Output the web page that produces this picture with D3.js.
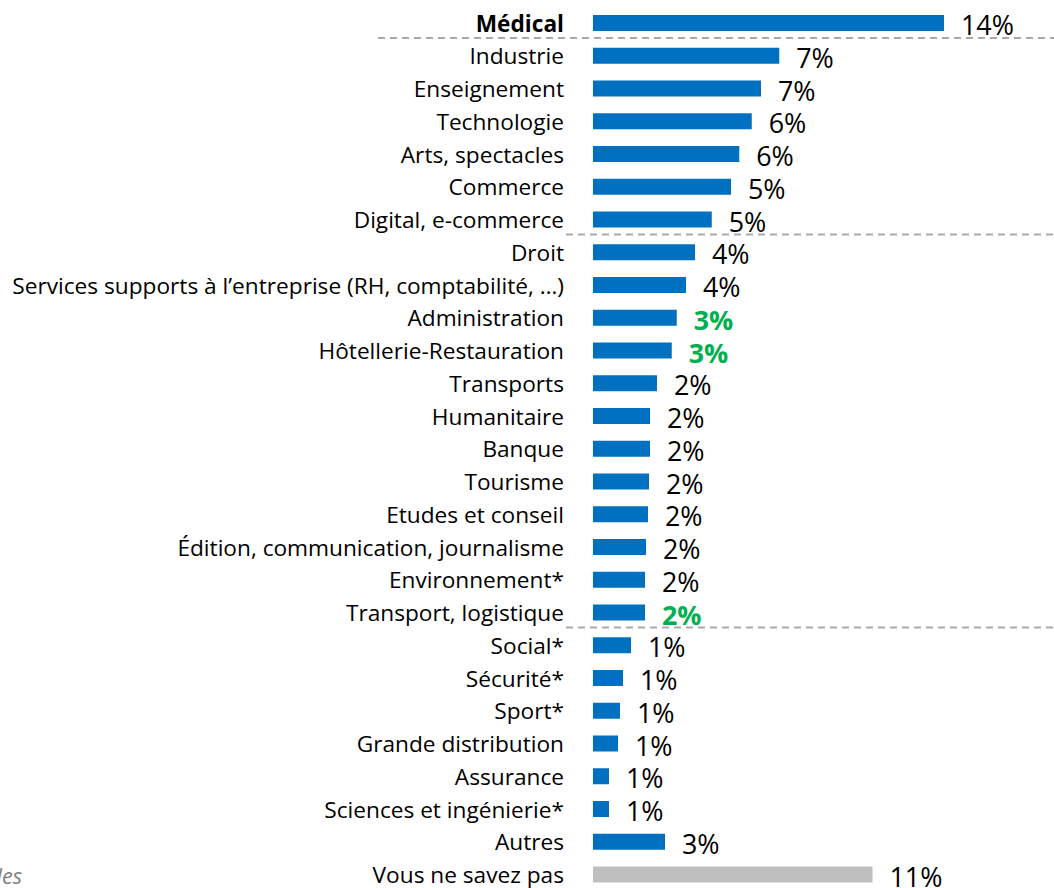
<!DOCTYPE html>
<html>
<head>
<meta charset="utf-8">
<script src="https://cdn.jsdelivr.net/npm/d3@7"></script>
<style>
  html, body { margin: 0; padding: 0; background: #fff; }
  svg { display: block; }
</style>
</head>
<body>
<svg id="chart" width="1054" height="888"></svg>
<script>
const categories = [
  "Médical", "Industrie", "Enseignement", "Technologie", "Arts, spectacles", "Commerce",
  "Digital, e-commerce", "Droit", "Services supports à l’entreprise (RH, comptabilité, …)",
  "Administration", "Hôtellerie-Restauration", "Transports", "Humanitaire", "Banque",
  "Tourisme", "Etudes et conseil", "Édition, communication, journalisme", "Environnement*",
  "Transport, logistique", "Social*", "Sécurité*", "Sport*", "Grande distribution",
  "Assurance", "Sciences et ingénierie*", "Autres", "Vous ne savez pas"
];
const values = [
  14.04, 7.45, 6.72, 6.35, 5.85, 5.52,
  4.75, 4.08, 3.72,
  3.35, 3.15, 2.56, 2.28, 2.28,
  2.24, 2.20, 2.12, 2.08,
  2.08, 1.52, 1.20, 1.08, 1.00,
  0.64, 0.64, 2.88, 11.18
];
const valueLabels = [
  "14%", "7%", "7%", "6%", "6%", "5%",
  "5%", "4%", "4%",
  "3%", "3%", "2%", "2%", "2%",
  "2%", "2%", "2%", "2%",
  "2%", "1%", "1%", "1%", "1%",
  "1%", "1%", "3%", "11%"
];
const highlightedValues = ["Administration", "Hôtellerie-Restauration", "Transport, logistique"];
const boldCategories = ["Médical"];
const greyCategories = ["Vous ne savez pas"];
const separatorsAfter = ["Médical", "Digital, e-commerce", "Transport, logistique"];
const footnote = "* Bases faibles";

const data = categories.map((c, i) => ({ cat: c, v: values[i], lab: valueLabels[i] }));

const svg = d3.select("#chart");
const FONT = "'Open Sans', 'Noto Sans', sans-serif";

const x = d3.scaleLinear().domain([0, 14.04]).range([593, 944]);
const y = d3.scalePoint().domain(categories).range([23, 874.5]);
const barH = 16;

// measure fonts
function fitSize(text, targetW, weight) {
  const t = svg.append("text").attr("font-family", FONT).attr("font-size", 20)
    .attr("font-weight", weight || "normal").text(text);
  const w = t.node().getComputedTextLength();
  t.remove();
  return 20 * targetW / w;
}
const catSize = fitSize("Services supports à l’entreprise (RH, comptabilité, …)", 552);
const valSize = fitSize("14%", 53);

// separators
const step = y.step();
separatorsAfter.forEach((c, i) => {
  const yy = y(c) + step / 2 - 1.5;
  svg.append("line")
    .attr("x1", i === 0 ? 378 : 566).attr("x2", 1054)
    .attr("y1", yy).attr("y2", yy)
    .attr("stroke", "#A9A9A9").attr("stroke-width", 2)
    .attr("stroke-dasharray", "7,5");
});

// bars
svg.append("g").selectAll("rect").data(data).join("rect")
  .attr("x", x(0))
  .attr("y", d => y(d.cat) - barH / 2)
  .attr("width", d => x(d.v) - x(0))
  .attr("height", barH)
  .attr("fill", d => greyCategories.includes(d.cat) ? "#BFBFBF" : "#0070C0");

// category labels
svg.append("g").selectAll("text").data(data).join("text")
  .attr("x", 564)
  .attr("y", d => y(d.cat) + 8.5)
  .attr("text-anchor", "end")
  .attr("font-family", FONT)
  .attr("font-size", catSize)
  .attr("font-weight", d => boldCategories.includes(d.cat) ? "bold" : "normal")
  .attr("fill", "#000")
  .text(d => d.cat);

// value labels
svg.append("g").selectAll("text").data(data).join("text")
  .attr("x", d => x(d.v) + 17)
  .attr("y", d => y(d.cat) + 12)
  .attr("font-family", FONT)
  .attr("font-size", valSize)
  .attr("font-weight", d => highlightedValues.includes(d.cat) ? "bold" : "normal")
  .attr("fill", d => highlightedValues.includes(d.cat) ? "#00B050" : "#000")
  .text(d => d.lab);

// footnote (cut at left edge)
svg.append("text")
  .attr("x", 22).attr("y", 884)
  .attr("text-anchor", "end")
  .attr("font-family", FONT)
  .attr("font-size", catSize * 0.95)
  .attr("font-style", "italic")
  .attr("fill", "#7F7F7F")
  .text(footnote);
</script>
</body>
</html>
